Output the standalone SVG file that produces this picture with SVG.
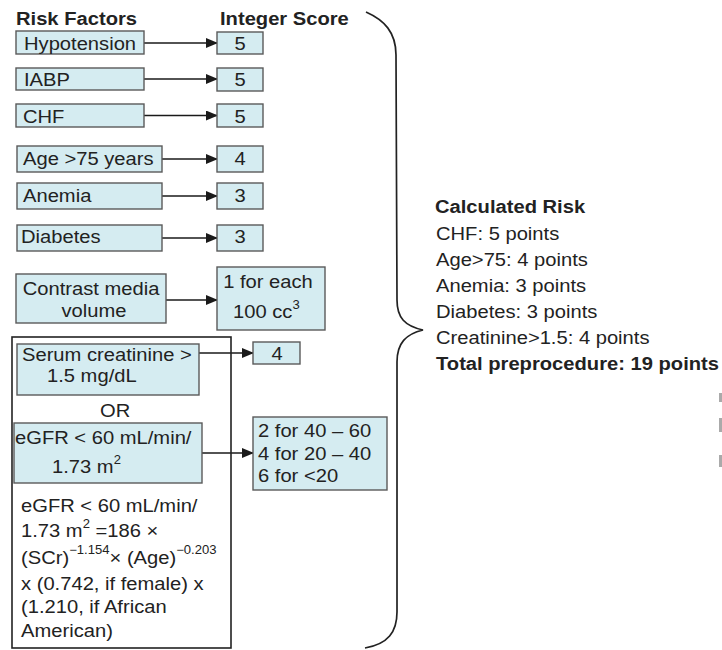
<svg xmlns="http://www.w3.org/2000/svg" width="722" height="650" viewBox="0 0 722 650">
<style>
.t{font-family:"Liberation Sans",Arial,sans-serif;font-size:18.5px;fill:#222}
.b{font-weight:bold}
.box{fill:#d5ecf1;stroke:#5a5a5a;stroke-width:1.4}
.arr{stroke:#1a1a1a;stroke-width:1.7;fill:none;marker-end:url(#ah)}
.sup{font-size:12px}
</style>
<defs>
<marker id="ah" markerWidth="12" markerHeight="10" refX="11" refY="5" orient="auto" markerUnits="userSpaceOnUse">
<path d="M0,0 L12,5 L0,10 Z" fill="#1a1a1a"/>
</marker>
</defs>
<rect width="722" height="650" fill="#fff"/>

<g id="headers">
<text class="t b" transform="translate(16 25) scale(1.09 1)">Risk Factors</text>
<text class="t b" transform="translate(220 25) scale(1.09 1)">Integer Score</text>
</g>

<g id="connectors">
<line class="arr" x1="144" y1="43" x2="217" y2="43"/>
<line class="arr" x1="144" y1="79" x2="217" y2="79"/>
<line class="arr" x1="144" y1="115.5" x2="217" y2="115.5"/>
<line class="arr" x1="162" y1="159" x2="217" y2="159"/>
<line class="arr" x1="162" y1="196" x2="217" y2="196"/>
<line class="arr" x1="162" y1="238" x2="217" y2="238"/>
<line class="arr" x1="166" y1="300" x2="217" y2="300"/>
<line class="arr" x1="199" y1="353" x2="253" y2="353"/>
<line class="arr" x1="202" y1="453" x2="253" y2="453"/>
</g>

<g id="hypotension">
<rect class="box" x="16" y="31" width="128" height="23"/>
<text class="t" transform="translate(24 50) scale(1.09 1)">Hypotension</text>
</g>
<g id="score-hypotension">
<rect class="box" x="217" y="32" width="46" height="22"/>
<text class="t" text-anchor="middle" transform="translate(240 50) scale(1.09 1)">5</text>
</g>

<g id="iabp">
<rect class="box" x="16" y="68" width="128" height="22"/>
<text class="t" transform="translate(24 86) scale(1.09 1)">IABP</text>
</g>
<g id="score-iabp">
<rect class="box" x="217" y="68" width="46" height="23"/>
<text class="t" text-anchor="middle" transform="translate(240 86) scale(1.09 1)">5</text>
</g>

<g id="chf">
<rect class="box" x="16" y="104" width="128" height="23"/>
<text class="t" transform="translate(23 123) scale(1.09 1)">CHF</text>
</g>
<g id="score-chf">
<rect class="box" x="217" y="104" width="46" height="23"/>
<text class="t" text-anchor="middle" transform="translate(240 123) scale(1.09 1)">5</text>
</g>

<g id="age">
<rect class="box" x="17" y="146" width="145" height="26"/>
<text class="t" transform="translate(23 165) scale(1.09 1)">Age &gt;75 years</text>
</g>
<g id="score-age">
<rect class="box" x="217" y="146" width="46" height="26"/>
<text class="t" text-anchor="middle" transform="translate(240 165) scale(1.09 1)">4</text>
</g>

<g id="anemia">
<rect class="box" x="17" y="183" width="145" height="26"/>
<text class="t" transform="translate(23 202) scale(1.09 1)">Anemia</text>
</g>
<g id="score-anemia">
<rect class="box" x="217" y="183" width="46" height="26"/>
<text class="t" text-anchor="middle" transform="translate(240 202) scale(1.09 1)">3</text>
</g>

<g id="diabetes">
<rect class="box" x="17" y="225" width="145" height="26"/>
<text class="t" transform="translate(21 243) scale(1.09 1)">Diabetes</text>
</g>
<g id="score-diabetes">
<rect class="box" x="217" y="225" width="46" height="26"/>
<text class="t" text-anchor="middle" transform="translate(240 243) scale(1.09 1)">3</text>
</g>

<g id="contrast">
<rect class="box" x="16" y="274" width="150" height="49"/>
<text class="t" text-anchor="middle" transform="translate(91 295) scale(1.09 1)">Contrast media</text>
<text class="t" text-anchor="middle" transform="translate(94 317) scale(1.09 1)">volume</text>
</g>
<g id="score-contrast">
<rect class="box" x="217" y="267" width="108" height="63"/>
<text class="t" text-anchor="middle" transform="translate(268 288) scale(1.09 1)">1 for each</text>
<text class="t" transform="translate(233 318) scale(1.09 1)">100 cc<tspan class="sup" dy="-9">3</tspan></text>
</g>

<g id="renal-group">
<rect x="12" y="337" width="219" height="311" fill="none" stroke="#222" stroke-width="1.6"/>
</g>

<g id="serum">
<rect class="box" x="17" y="344" width="182" height="51"/>
<text class="t" transform="translate(22 361) scale(1.09 1)">Serum creatinine &gt;</text>
<text class="t" transform="translate(47 382) scale(1.09 1)">1.5 mg/dL</text>
</g>
<g id="score-serum">
<rect class="box" x="253" y="342" width="47" height="22"/>
<text class="t" text-anchor="middle" transform="translate(277 360) scale(1.09 1)">4</text>
</g>

<g id="or">
<text class="t" transform="translate(100 417) scale(1.09 1)">OR</text>
</g>

<g id="egfr">
<rect class="box" x="14" y="423" width="188" height="60"/>
<text class="t" transform="translate(15 444) scale(1.09 1)">eGFR &lt; 60 mL/min/</text>
<text class="t" transform="translate(52 473) scale(1.09 1)">1.73 m<tspan class="sup" dy="-9">2</tspan></text>
</g>
<g id="score-egfr">
<rect class="box" x="253" y="417" width="134" height="73"/>
<text class="t" transform="translate(258 437) scale(1.09 1)">2 for 40 – 60</text>
<text class="t" transform="translate(258 460) scale(1.09 1)">4 for 20 – 40</text>
<text class="t" transform="translate(258 482) scale(1.09 1)">6 for &lt;20</text>
</g>

<g id="formula">
<text class="t" transform="translate(21 512) scale(1.09 1)">eGFR &lt; 60 mL/min/</text>
<text class="t" transform="translate(21 537) scale(1.09 1)">1.73 m<tspan class="sup" dy="-9">2</tspan><tspan dy="9"> =186 ×</tspan></text>
<text class="t" transform="translate(21 564) scale(1.09 1)">(SCr)<tspan class="sup" dy="-10">−1.154</tspan><tspan dy="10">× (Age)</tspan><tspan class="sup" dy="-10">−0.203</tspan></text>
<text class="t" transform="translate(21 590) scale(1.09 1)">x (0.742, if female) x</text>
<text class="t" transform="translate(21 613) scale(1.09 1)">(1.210, if African</text>
<text class="t" transform="translate(21 637) scale(1.09 1)">American)</text>
</g>

<g id="brace">
<path d="M366,12 C384,20 396,32 396,55 L397,300 C397,318 405,326 423,330 C406,334 397,343 397,362 L397,612 C397,632 388,644 365,648" fill="none" stroke="#222" stroke-width="1.7"/>
</g>

<g id="calculated-risk">
<text class="t b" transform="translate(435 213) scale(1.09 1)">Calculated Risk</text>
<text class="t" transform="translate(436 240) scale(1.09 1)">CHF: 5 points</text>
<text class="t" transform="translate(436 266) scale(1.09 1)">Age&gt;75: 4 points</text>
<text class="t" transform="translate(436 292) scale(1.09 1)">Anemia: 3 points</text>
<text class="t" transform="translate(436 318) scale(1.09 1)">Diabetes: 3 points</text>
<text class="t" transform="translate(436 344) scale(1.09 1)">Creatinine&gt;1.5: 4 points</text>
<text class="t b" transform="translate(436 370) scale(1.09 1)">Total preprocedure: 19 points</text>
</g>

<g id="edge-fragments" fill="#aaa">
<rect x="719" y="393" width="3" height="9"/>
<rect x="719" y="418" width="3" height="14"/>
<rect x="719" y="455" width="3" height="12"/>
</g>
</svg>
